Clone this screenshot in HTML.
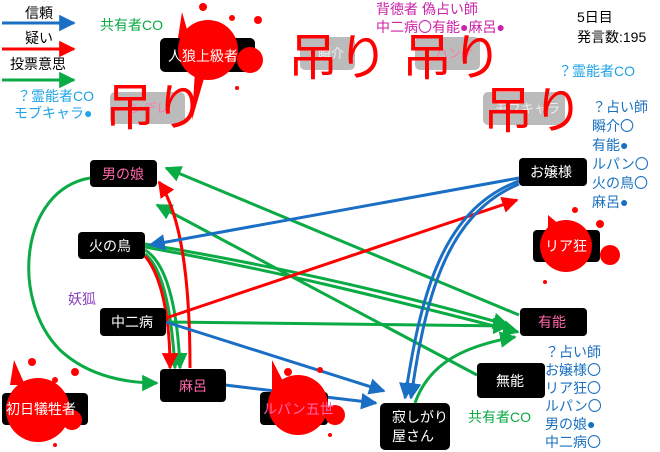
<!DOCTYPE html>
<html><head><meta charset="utf-8"><style>
body{margin:0;background:#fff;width:660px;height:452px;overflow:hidden}
svg{display:block}
text{font-family:"Liberation Sans","Noto Sans CJK JP",sans-serif}
</style></head><body>
<svg width="660" height="452" viewBox="0 0 660 452" xmlns="http://www.w3.org/2000/svg">
<defs>
<marker id="ab" viewBox="0 0 10 10" refX="9" refY="5" markerWidth="5.5" markerHeight="5.5" orient="auto" markerUnits="strokeWidth"><path d="M0,0L10,5L0,10z" fill="#1a6fc4"/></marker>
<marker id="ar" viewBox="0 0 10 10" refX="9" refY="5" markerWidth="5.5" markerHeight="5.5" orient="auto" markerUnits="strokeWidth"><path d="M0,0L10,5L0,10z" fill="#f00"/></marker>
<marker id="ag" viewBox="0 0 10 10" refX="9" refY="5" markerWidth="5.5" markerHeight="5.5" orient="auto" markerUnits="strokeWidth"><path d="M0,0L10,5L0,10z" fill="#0aaa44"/></marker>
</defs>

<text x="25" y="18" font-size="14">信頼</text>
<line x1="2" y1="23" x2="74" y2="23" stroke="#1a6fc4" stroke-width="3" marker-end="url(#ab)"/>
<text x="25" y="43" font-size="14">疑い</text>
<line x1="2" y1="49" x2="74" y2="49" stroke="#f00" stroke-width="3" marker-end="url(#ar)"/>
<text x="10" y="69" font-size="14">投票意思</text>
<line x1="2" y1="80" x2="74" y2="80" stroke="#0aaa44" stroke-width="3" marker-end="url(#ag)"/>

<rect x="110" y="92" width="75" height="32" rx="5" fill="#bbb"/>
<text x="130" y="113" font-size="13" fill="#f7a">ンデレ</text>
<rect x="300" y="37" width="55" height="33" rx="5" fill="#bbb"/>
<text x="318" y="58" font-size="13" fill="#eee">瞬介</text>
<rect x="415" y="37" width="65" height="33" rx="5" fill="#bbb"/>
<text x="435" y="58" font-size="13" fill="#f7a">ハンケ</text>
<rect x="483" y="92" width="82" height="33" rx="5" fill="#bbb"/>
<text x="495" y="113" font-size="13" fill="#eee">モブキャラ</text>

<g fill="none" stroke-width="3">
<path d="M90,178 C20,190 10,300 60,350 C90,378 130,383 157,383" stroke="#0aaa44" marker-end="url(#ag)"/>
<path d="M519,315 L166,168" stroke="#0aaa44" marker-end="url(#ag)"/>
<path d="M477,375 L157,205" stroke="#0aaa44" marker-end="url(#ag)"/>
<path d="M145,244 C300,270 420,300 508,325" stroke="#0aaa44" marker-end="url(#ag)"/>
<path d="M145,247 C300,275 430,310 518,332" stroke="#0aaa44" marker-end="url(#ag)"/>
<path d="M166,322 L508,326" stroke="#0aaa44" marker-end="url(#ag)"/>
<path d="M145,250 C170,265 178,320 180,368" stroke="#0aaa44" marker-end="url(#ag)"/>
<path d="M145,254 C165,270 172,320 175,368" stroke="#0aaa44" marker-end="url(#ag)"/>
<path d="M415,403 C430,360 470,345 515,337" stroke="#0aaa44" marker-end="url(#ag)"/>
<path d="M145,256 C165,280 170,330 170,368" stroke="#f00" marker-end="url(#ar)"/>
<path d="M190,368 C190,300 185,220 159,182" stroke="#f00" marker-end="url(#ar)"/>
<path d="M166,318 L517,200" stroke="#f00" marker-end="url(#ar)"/>
<path d="M519,178 L150,245" stroke="#1a6fc4" marker-end="url(#ab)"/>
<path d="M519,181 C440,210 420,300 405,398" stroke="#1a6fc4" marker-end="url(#ab)"/>
<path d="M519,184 C445,215 425,300 411,398" stroke="#1a6fc4" marker-end="url(#ab)"/>
<path d="M166,322 L384,391" stroke="#1a6fc4" marker-end="url(#ab)"/>
<path d="M225,385 L376,403" stroke="#1a6fc4" marker-end="url(#ab)"/>
</g>

<g font-size="14">
<rect x="90" y="160" width="67" height="27" rx="4" fill="#000"/><text x="102" y="179" fill="#f6a">男の娘</text>
<rect x="78" y="232" width="67" height="27" rx="4" fill="#000"/><text x="89" y="251" fill="#fff">火の鳥</text>
<rect x="100" y="308" width="66" height="28" rx="4" fill="#000"/><text x="111" y="327" fill="#fff">中二病</text>
<rect x="160" y="369" width="66" height="33" rx="4" fill="#000"/><text x="179" y="391" fill="#f6a">麻呂</text>
<rect x="2" y="393" width="86" height="32" rx="4" fill="#000"/>
<rect x="260" y="392" width="68" height="33" rx="4" fill="#000"/>
<rect x="380" y="403" width="70" height="47" rx="5" fill="#000"/><text x="392" y="422" fill="#fff">寂しがり</text><text x="392" y="441" fill="#fff">屋さん</text>
<rect x="477" y="363" width="68" height="35" rx="4" fill="#000"/><text x="496" y="386" fill="#fff">無能</text>
<rect x="520" y="308" width="67" height="28" rx="4" fill="#000"/><text x="538" y="327" fill="#f6a">有能</text>
<rect x="519" y="158" width="68" height="28" rx="4" fill="#000"/><text x="530" y="177" fill="#fff">お嬢様</text>
<rect x="533" y="230" width="67" height="32" rx="4" fill="#000"/>
<rect x="160" y="38" width="95" height="34" rx="5" fill="#000"/>
</g>

<g fill="#f00">
<circle cx="208" cy="50" r="30"/><circle cx="250" cy="60" r="13"/><circle cx="203" cy="7" r="4"/><circle cx="232" cy="18" r="3"/><circle cx="258" cy="20" r="4"/><circle cx="237" cy="88" r="2"/><path d="M182,12 L190,40 L178,38z"/><path d="M195,70 L192,120 L205,75z"/>
<circle cx="38" cy="410" r="32"/><circle cx="72" cy="420" r="10"/><circle cx="32" cy="362" r="4"/><circle cx="75" cy="372" r="4"/><circle cx="55" cy="380" r="3"/><circle cx="55" cy="445" r="2"/><path d="M14,360 L25,385 L10,385z"/>
<circle cx="298" cy="405" r="30"/><circle cx="335" cy="415" r="10"/><circle cx="288" cy="372" r="4"/><circle cx="320" cy="370" r="3"/><circle cx="330" cy="435" r="2"/><path d="M272,360 L285,385 L272,390z"/>
<circle cx="566" cy="246" r="26"/><circle cx="610" cy="255" r="10"/><circle cx="575" cy="210" r="3"/><circle cx="600" cy="224" r="4"/><circle cx="545" cy="282" r="2"/><path d="M548,215 L560,225 L548,235z"/>
</g>
<g font-size="14" fill="#fff">
<text x="168" y="61">人狼上級者</text>
<text x="6" y="414">初日犠牲者</text>
<text x="263" y="414" fill="#f6a">ルパン五世</text>
<text x="545" y="251">リア狂</text>
</g>

<g font-size="50" fill="#f00">
<text x="105" y="125">吊り</text>
<text x="288" y="75">吊り</text>
<text x="402" y="75">吊り</text>
<text x="483" y="128">吊り</text>
</g>

<g font-size="14">
<text x="100" y="30" fill="#0aaa44">共有者CO</text>
<text x="17" y="101" fill="#1fa3e6">？霊能者CO</text>
<text x="14" y="118" fill="#1fa3e6">モブキャラ●</text>
<text x="376" y="14" fill="#cc22aa">背徳者 偽占い師</text>
<text x="376" y="32" fill="#cc22aa">中二病〇有能●麻呂●</text>
<text x="577" y="22" fill="#000">5日目</text>
<text x="577" y="42" fill="#000">発言数:195</text>
<text x="558" y="76" fill="#1fa3e6">？霊能者CO</text>
<g fill="#1a70c0">
<text x="592" y="112">？占い師</text><text x="592" y="131">瞬介〇</text><text x="592" y="150">有能●</text><text x="592" y="169">ルパン〇</text><text x="592" y="188">火の鳥〇</text><text x="592" y="207">麻呂●</text>
<text x="545" y="357">？占い師</text><text x="545" y="375">お嬢様〇</text><text x="545" y="393">リア狂〇</text><text x="545" y="411">ルパン〇</text><text x="545" y="429">男の娘●</text><text x="545" y="447">中二病〇</text>
</g>
<text x="68" y="304" fill="#8a3fbf">妖狐</text>
<text x="468" y="422" fill="#0aaa44">共有者CO</text>
</g>
</svg>
</body></html>
